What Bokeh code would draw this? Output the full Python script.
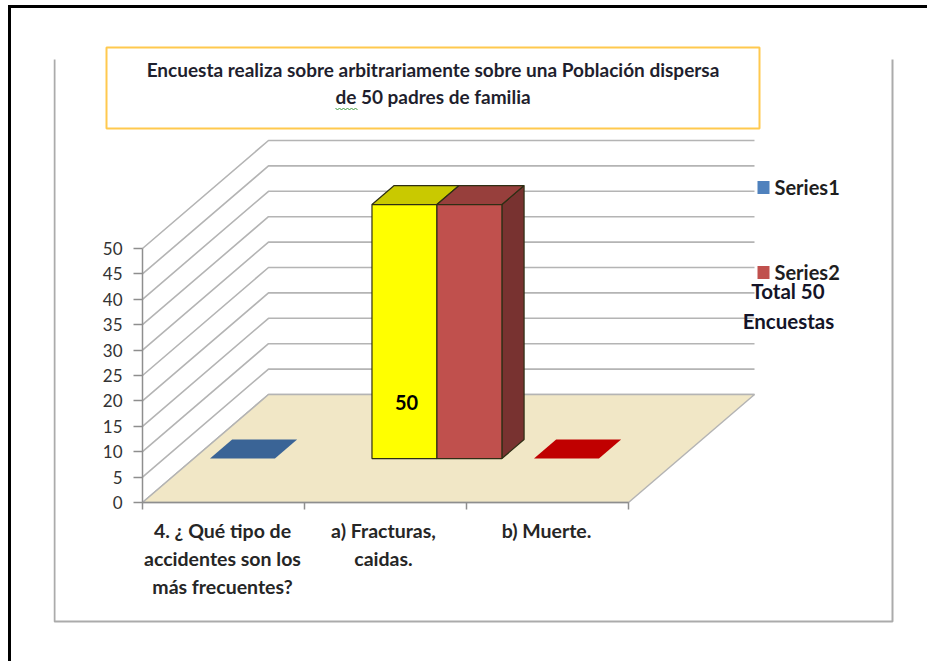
from bokeh.plotting import figure
from bokeh.models import Range1d, FixedTicker
from bokeh.core.properties import value
from bokeh.embed import file_html
from bokeh.resources import INLINE

# ---- data ----
categories = [["4. ¿ Qué tipo de", "accidentes son los", "más frecuentes?"],
              ["a) Fracturas,", "caidas."],
              ["b) Muerte."]]
series1 = [0, 50, 0]
series2 = [None, 50, None]
series1_colors = ["#3A6496", "#FFFF00", "#C00000"]
series2_colors = [None, "#C0504D", None]
series_names = ["Series1", "Series2"]
legend_colors = ["#4F81BD", "#C0504D"]
y_ticks = [0, 5, 10, 15, 20, 25, 30, 35, 40, 45, 50]
title_lines = ["Encuesta realiza sobre arbitrariamente sobre una Población dispersa",
               "de 50 padres de familia"]
note_lines = ["Total 50", "Encuestas"]

# ---- layout (page pixels) ----
W, H = 916, 653
ORG_X, ORG_Y = 11, 8
FRAME_L, FRAME_B = 42, 20
X0, Y0 = 142.0, 502.0       # value 0, first category edge
PX_CAT, PX_VAL = 162.0, 5.08
DEPTH_X, DEPTH_Y = 126.0, 108.0

FONT = value("Lato")
GRID = "#B4B4B4"
AXIS = "#8E8E8E"


def dx(px):
    return (px - X0) / PX_CAT


def dy(py):
    return (Y0 - py) / PX_VAL


def proj(c, d, v):
    return c + d * DEPTH_X / PX_CAT, v + d * DEPTH_Y / PX_VAL


def quad(points):
    xy = [proj(*q) for q in points]
    return [a for a, _ in xy], [b for _, b in xy]


# the screenshot's black frame (top and left) is the page element's own shadow
p = figure(width=W, height=H, output_backend="svg", toolbar_location=None,
           x_range=Range1d(dx(ORG_X + FRAME_L), dx(ORG_X + W)),
           y_range=Range1d(dy(ORG_Y + H - FRAME_B), dy(ORG_Y)),
           min_border_left=FRAME_L, min_border_bottom=FRAME_B,
           min_border_top=0, min_border_right=0,
           outline_line_color=None,
           background_fill_color="white", border_fill_color="white",
           styles={"position": "absolute", "left": f"{ORG_X}px", "top": f"{ORG_Y}px",
                   "box-shadow": "-3px 0 0 0 #000, 0 -3px 0 0 #000, -3px -3px 0 0 #000"})
p.grid.visible = False

# real axes placed on the chart's front edge
yax = p.yaxis[0]
yax.fixed_location = 0
yax.ticker = FixedTicker(ticks=y_ticks)
yax.bounds = (0, 50)
yax.axis_line_color = AXIS
yax.axis_line_width = 1.5
yax.major_tick_line_color = AXIS
yax.major_tick_line_width = 1.5
yax.major_tick_out = 9
yax.major_tick_in = 0
yax.minor_tick_line_color = None
yax.major_label_standoff = 11
yax.major_label_text_font = "Lato"
yax.major_label_text_font_size = "17px"
yax.major_label_text_color = "#333333"

xax = p.xaxis[0]
xax.fixed_location = 0
xax.ticker = FixedTicker(ticks=[0, 1, 2, 3])
xax.bounds = (0, 3)
xax.axis_line_color = AXIS
xax.axis_line_width = 1.5
xax.major_tick_line_color = AXIS
xax.major_tick_line_width = 1.5
xax.major_tick_out = 7
xax.major_tick_in = 0
xax.minor_tick_line_color = None
xax.major_label_text_font_size = "0px"
xax.major_label_text_color = None

# grey box of the chart area: left, bottom, right
p.line([dx(54), dx(54), dx(892), dx(892)], [dy(59), dy(621), dy(621), dy(59)],
       line_color="#ABABAB", line_width=2)

# walls: one line per tick, side wall then back wall
for t in y_ticks:
    xs, ys = quad([(0, 0, t), (0, 1, t), (3, 1, t)])
    p.line(xs, ys, line_color=GRID, line_width=1.6)

# floor
xs, ys = quad([(0, 0, 0), (3, 0, 0), (3, 1, 0), (0, 1, 0)])
p.patch(xs, ys, fill_color="#F1E7C6", line_color=GRID, line_width=1.5)

# bars
D0, D1 = 0.407, 0.583
S0, S1, S2 = 0.103, 0.504, 0.905
EDGE = "#2E2E14"


def shade(hex_color, f):
    r, g, b = (int(hex_color[i:i + 2], 16) for i in (1, 3, 5))
    return "#%02X%02X%02X" % (int(r * f), int(g * f), int(b * f))


def prism(c0, c1, v, color):
    if v == 0:
        xs, ys = quad([(c0, D0, 0), (c1, D0, 0), (c1, D1, 0), (c0, D1, 0)])
        p.patch(xs, ys, fill_color=color, line_color=None)
        return
    xs, ys = quad([(c1, D0, 0), (c1, D1, 0), (c1, D1, v), (c1, D0, v)])
    p.patch(xs, ys, fill_color=shade(color, 0.63), line_color=EDGE, line_width=1.2)
    xs, ys = quad([(c0, D0, v), (c1, D0, v), (c1, D1, v), (c0, D1, v)])
    p.patch(xs, ys, fill_color=shade(color, 0.79), line_color=EDGE, line_width=1.2)
    xs, ys = quad([(c0, D0, 0), (c1, D0, 0), (c1, D0, v), (c0, D0, v)])
    p.patch(xs, ys, fill_color=color, line_color=EDGE, line_width=1.2)


for i, (v, col) in enumerate(zip(series1, series1_colors)):
    prism(i + S0 - 0.003, i + S1 - 0.003, v, col)
for i, (v, col) in enumerate(zip(series2, series2_colors)):
    if v is not None:
        prism(i + S1 - 0.003, i + S2 - 0.003, v, col)


def label(px, py, txt, size, style="bold", color="#1E1E1E", align="center"):
    p.text([dx(px)], [dy(py)], text=[txt], text_font=FONT, text_font_size=size,
           text_font_style=style, text_color=color, text_align=align,
           text_baseline="middle")


# data label
label(406, 402, str(series1[1]), "20px", color="#000000")

# category labels
cat_x = [222, 383, 546]
for cx, lines in zip(cat_x, categories):
    for j, line in enumerate(lines):
        label(cx, 530 + 28 * j, line, "19.5px", color="#262626")

# title box
p.quad(left=[dx(106)], right=[dx(759)], top=[dy(47)], bottom=[dy(128)],
       fill_color="white", line_color="#FFC94F", line_width=2)
for j, line in enumerate(title_lines):
    label(432.5, 69 + 27 * j, line, "19px", color="#1F1F2E")
# spell-check squiggle under "de"
sq_x = [335 + 2 * k for k in range(12)]
p.line([dx(x) for x in sq_x], [dy(108 + (k % 2)) for k in range(12)],
       line_color="#3E9A3E", line_width=1)

# legend
for name, col, py in zip(series_names, legend_colors, [187, 272]):
    p.quad(left=[dx(757)], right=[dx(769)], top=[dy(py - 6.5)], bottom=[dy(py + 6.5)],
           fill_color=col, line_color=None)
    label(774, py - 1, name, "20px", align="left")

# note over the legend
for cx, py, line in zip([787.5, 788], [291, 321], note_lines):
    label(cx, py - 1, line, "20.5px", color="#141428")

open("out.html", "w").write(file_html(p, INLINE))
